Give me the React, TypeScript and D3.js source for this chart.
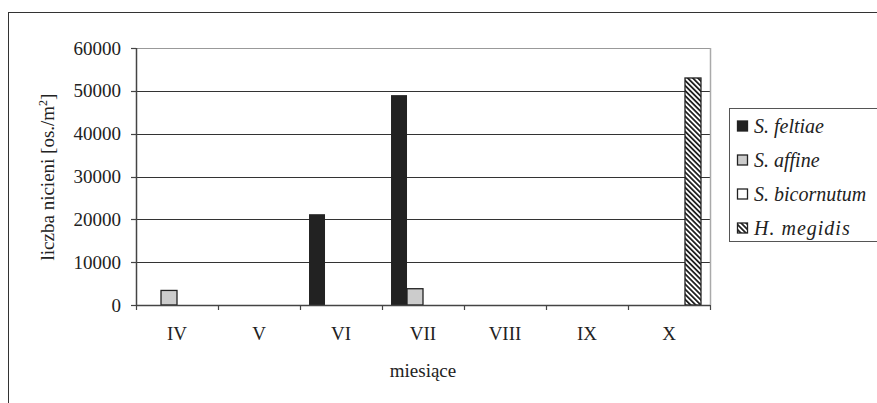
import React from "react";
import * as d3 from "d3";

// Monthly nematode counts (individuals per m²) by species
const months = ["IV", "V", "VI", "VII", "VIII", "IX", "X"];
const species = ["S. feltiae", "S. affine", "S. bicornutum", "H. megidis"];
const feltiae = [0, 0, 21200, 49000, 0, 0, 0];
const affine = [3400, 0, 0, 3800, 0, 0, 0];
const bicornutum = [0, 0, 0, 0, 0, 0, 0];
const megidis = [0, 0, 0, 0, 0, 0, 53000];
const seriesValues = [feltiae, affine, bicornutum, megidis];
const yTicks = [0, 10000, 20000, 30000, 40000, 50000, 60000];

const W = 877;
const H = 403;
const plot = { left: 136, top: 48, right: 710, bottom: 305 };
const FONT = "Liberation Serif, Times New Roman, serif";

const fills = ["#222222", "#cccccc", "#ffffff", "url(#hatch)"];

export default function App() {
  const x = d3
    .scaleBand<string>()
    .domain(months)
    .range([plot.left, plot.right])
    .paddingInner(0.22)
    .paddingOuter(0.11);
  const x0 = d3.scaleBand<string>().domain(months).range([plot.left, plot.right]);
  const xs = d3.scaleBand<string>().domain(species).range([0, x.bandwidth()]);
  const y = d3.scaleLinear().domain([0, 60000]).range([plot.bottom, plot.top]);

  const boundaries = months.map((m) => x0(m) as number).concat([plot.right]);

  return (
    <svg
      width={W}
      height={H}
      style={{ position: "absolute", left: 0, top: 0, background: "#fff" }}
      fontFamily={FONT}
    >
      <defs>
        <pattern id="hatch" width="3.6" height="3.6" patternUnits="userSpaceOnUse" patternTransform="rotate(45)">
          <rect width="3.6" height="3.6" fill="#fff" />
          <line x1="0" y1="0.9" x2="3.6" y2="0.9" stroke="#222" strokeWidth="1.8" />
        </pattern>
      </defs>
      {/* outer frame */}
      <rect x={8.5} y={12.5} width={W + 20} height={H + 20} fill="#fff" stroke="#333" strokeWidth={1} />

      {/* gridlines */}
      {yTicks.slice(1, -1).map((t) => (
        <line key={t} x1={plot.left} x2={plot.right} y1={Math.round(y(t)) + 0.5} y2={Math.round(y(t)) + 0.5} stroke="#333" strokeWidth={1} />
      ))}
      {/* plot area border (top and right) */}
      <line x1={plot.left} x2={plot.right} y1={plot.top + 0.5} y2={plot.top + 0.5} stroke="#999" strokeWidth={1} />
      <line x1={plot.right + 0.5} x2={plot.right + 0.5} y1={plot.top} y2={plot.bottom} stroke="#aaa" strokeWidth={1.5} />

      {/* bars */}
      {species.map((s, si) =>
        months.map((m, mi) => {
          const v = seriesValues[si][mi];
          if (!v) return null;
          const bx = (x(m) as number) + (xs(s) as number);
          return (
            <rect
              key={s + m}
              x={bx}
              y={y(v)}
              width={xs.bandwidth()}
              height={y(0) - y(v)}
              fill={fills[si]}
              stroke="#222"
              strokeWidth={si === 0 ? 0 : 1.3}
            />
          );
        })
      )}

      {/* y axis */}
      <line x1={plot.left + 0.5} x2={plot.left + 0.5} y1={plot.top} y2={plot.bottom} stroke="#444" strokeWidth={1.5} />
      {yTicks.map((t) => (
        <g key={t}>
          <line x1={plot.left - 5} x2={plot.left} y1={Math.round(y(t)) + 0.5} y2={Math.round(y(t)) + 0.5} stroke="#444" strokeWidth={1.2} />
          <text x={plot.left - 15} y={y(t)} dy="0.35em" textAnchor="end" fontSize={19} fill="#222">
            {t}
          </text>
        </g>
      ))}

      {/* x axis */}
      <line x1={plot.left} x2={plot.right} y1={plot.bottom + 0.5} y2={plot.bottom + 0.5} stroke="#444" strokeWidth={1.5} />
      {boundaries.map((bx, i) => (
        <line key={i} x1={bx + 0.5} x2={bx + 0.5} y1={plot.bottom} y2={plot.bottom + 5} stroke="#444" strokeWidth={1.2} />
      ))}
      {months.map((m) => (
        <text key={m} x={(x0(m) as number) + x0.bandwidth() / 2} y={333} dy="0.35em" textAnchor="middle" fontSize={19} fill="#222">
          {m}
        </text>
      ))}

      {/* axis titles */}
      <text x={423} y={370} dy="0.35em" textAnchor="middle" fontSize={19} fill="#222">
        miesiące
      </text>
      <text transform="translate(47,177) rotate(-90)" textAnchor="middle" dy="0.35em" fontSize={19} fill="#222">
        liczba nicieni [os./m<tspan dy="-7" fontSize={12}>2</tspan><tspan dy="7">]</tspan>
      </text>

      {/* legend */}
      <rect x={729.5} y={108.5} width={160} height={133} fill="#fff" stroke="#555" strokeWidth={1} />
      {species.map((s, i) => {
        const ly = 126 + i * 34;
        return (
          <g key={s}>
            <rect x={737.5} y={ly - 5} width={10} height={10} fill={fills[i]} stroke="#222" strokeWidth={1.3} />
            <text x={754} y={ly} dy="0.35em" fontSize={20} fontStyle="italic" fill="#222" letterSpacing={s === "H. megidis" ? 1 : 0}>
              {s}
            </text>
          </g>
        );
      })}
    </svg>
  );
}
